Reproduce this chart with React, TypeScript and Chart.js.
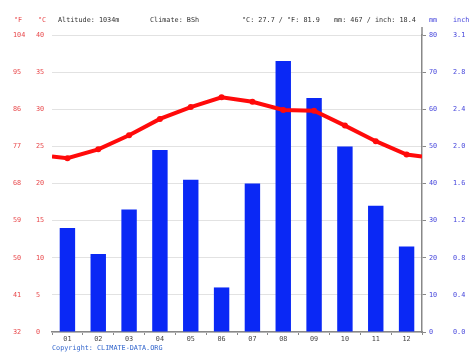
import React, { useEffect, useRef } from "react";
import { Chart, registerables } from "chart.js";

Chart.register(...registerables);

const months = ["01", "02", "03", "04", "05", "06", "07", "08", "09", "10", "11", "12"];
const precipMm = [28, 21, 33, 49, 41, 12, 40, 73, 63, 50, 34, 23];
const tempC = [23.4, 24.6, 26.5, 28.7, 30.3, 31.6, 31.0, 29.9, 29.8, 27.8, 25.7, 23.9];
const headerTexts = [
  { text: "°F", x: 14, color: "#e8494c" },
  { text: "°C", x: 38, color: "#e8494c" },
  { text: "Altitude: 1034m", x: 58, color: "#333333" },
  { text: "Climate: BSh", x: 150, color: "#333333" },
  { text: "°C: 27.7 / °F: 81.9", x: 242, color: "#333333" },
  { text: "mm: 467 / inch: 18.4", x: 334, color: "#333333" },
  { text: "mm", x: 429, color: "#4646dc" },
  { text: "inch", x: 453, color: "#4646dc" },
];
const copyright = "Copyright: CLIMATE-DATA.ORG";

const FONT = "'DejaVu Sans Mono', 'Liberation Mono', monospace";
const FSIZE = 6.8;
const RED = "#e8494c";
const BLUE = "#4646dc";

export default function App() {
  const ref = useRef<HTMLCanvasElement>(null);
  useEffect(() => {
    document.body.style.margin = "0";
    const edge = (tempC[0] + tempC[11]) / 2;
    const linePts = [{ x: 0, y: edge }, ...tempC.map((t, i) => ({ x: i + 0.5, y: t })), { x: 12, y: edge }];
    const textPlugin = {
      id: "texts",
      afterDraw(chart: any) {
        const ctx = chart.ctx;
        const area = chart.chartArea;
        ctx.save();
        // right axis line extends slightly above the plot
        ctx.strokeStyle = "#888";
        ctx.lineWidth = 1.5;
        ctx.beginPath();
        ctx.moveTo(area.right, area.top);
        ctx.lineTo(area.right, area.top - 8);
        ctx.stroke();
        ctx.font = `${FSIZE}px ${FONT}`;
        ctx.textBaseline = "middle";
        ctx.textAlign = "left";
        headerTexts.forEach((h) => {
          ctx.fillStyle = h.color;
          ctx.fillText(h.text, h.x, 20.5);
        });
        ctx.fillStyle = "#3366cc";
        ctx.fillText(copyright, area.left, 348);
        ctx.restore();
      },
    };
    const chart = new Chart(ref.current!, {
      type: "bar",
      data: {
        labels: months,
        datasets: [
          {
            type: "line",
            data: linePts as any,
            xAxisID: "xl",
            yAxisID: "y",
            borderColor: "#ff0a0a",
            backgroundColor: "#ff0a0a",
            borderWidth: 4,
            pointRadius: linePts.map((_, i) => (i === 0 || i === linePts.length - 1 ? 0 : 3)),
            pointBorderWidth: 0,
            tension: 0,
            order: 0,
          },
          {
            type: "bar",
            data: precipMm,
            xAxisID: "x",
            yAxisID: "mm",
            backgroundColor: "#0a28f5",
            barPercentage: 0.5,
            categoryPercentage: 1,
            grouped: false,
            order: 1,
          },
        ],
      },
      options: {
        responsive: false,
        animation: false,
        layout: { padding: { left: 13, right: 0, top: 35, bottom: 0 } },
        plugins: { legend: { display: false }, tooltip: { enabled: false } },
        scales: {
          x: {
            type: "category",
            offset: true,
            grid: { display: true, drawOnChartArea: false, offset: true, tickLength: 3, color: "#888" },
            border: { display: true, color: "#888", width: 1.5 },
            ticks: { font: { family: FONT, size: FSIZE }, color: "#444", padding: 0 },
            afterFit: (s: any) => { s.height = 23; },
          },
          xl: {
            type: "linear",
            min: 0,
            max: 12,
            offset: false,
            display: false,
            grid: { offset: false },
          },
          yF: {
            position: "left",
            weight: 2,
            min: 0,
            max: 40,
            grid: { display: false, drawTicks: false },
            border: { display: false },
            ticks: {
              stepSize: 5,
              autoSkip: false,
              crossAlign: "far",
              font: { family: FONT, size: FSIZE },
              color: RED,
              callback: (v: any) => String(Math.round(v * 9 / 5 + 32)),
            },
            afterFit: (s: any) => { s.width = 23; },
          },
          y: {
            position: "left",
            weight: 1,
            min: 0,
            max: 40,
            grid: { color: "#e2e2e2", drawTicks: false },
            border: { display: false },
            ticks: {
              stepSize: 5,
              autoSkip: false,
              crossAlign: "far",
              font: { family: FONT, size: FSIZE },
              color: RED,
            },
            afterFit: (s: any) => { s.width = 16; },
          },
          mm: {
            position: "right",
            weight: 1,
            min: 0,
            max: 80,
            grid: { drawOnChartArea: false, tickLength: 4, color: "#888" },
            border: { display: true, color: "#888", width: 1.5 },
            ticks: {
              stepSize: 10,
              autoSkip: false,
              padding: 3,
              font: { family: FONT, size: FSIZE },
              color: BLUE,
            },
            afterFit: (s: any) => { s.width = 31; },
          },
          inch: {
            position: "right",
            weight: 2,
            min: 0,
            max: 80,
            grid: { display: false, drawTicks: false },
            border: { display: false },
            ticks: {
              stepSize: 10,
              autoSkip: false,
              padding: 0,
              font: { family: FONT, size: FSIZE },
              color: BLUE,
              callback: (v: any) => (v / 25.4).toFixed(1),
            },
            afterFit: (s: any) => { s.width = 21; },
          },
        },
      } as any,
      plugins: [textPlugin],
    });
    return () => chart.destroy();
  }, []);
  return <canvas ref={ref} width={474} height={355} style={{ display: "block" }} />;
}
